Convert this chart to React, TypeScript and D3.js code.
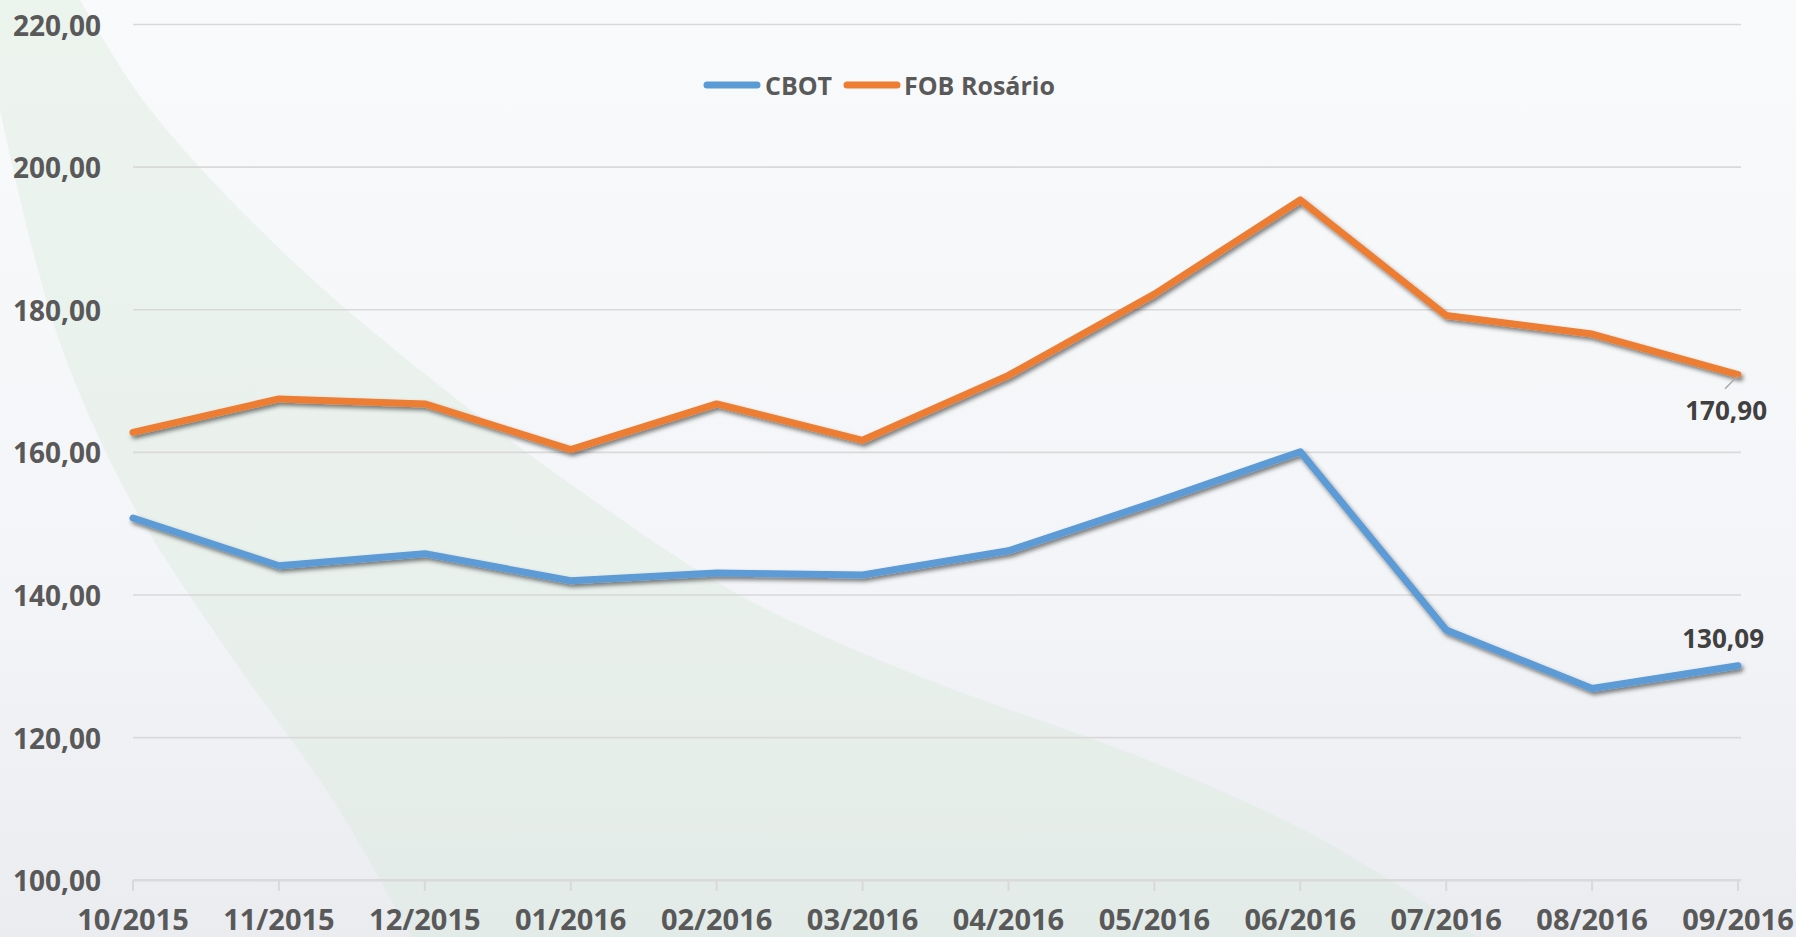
import React from "react";
import * as d3 from "d3";

const categories = ["10/2015","11/2015","12/2015","01/2016","02/2016","03/2016","04/2016","05/2016","06/2016","07/2016","08/2016","09/2016"];
const cbot = [150.8, 144.1, 145.8, 142.0, 143.1, 142.8, 146.2, 153.0, 160.1, 135.1, 126.9, 130.09];
const fob = [162.8, 167.5, 166.8, 160.4, 166.8, 161.7, 170.8, 182.2, 195.4, 179.2, 176.6, 170.90];
const yTicks = [100, 120, 140, 160, 180, 200, 220];
const seriesNames = ["CBOT", "FOB Rosário"];
const seriesColors = ["#5B9BD5", "#ED7D31"];

const W = 1796, H = 937;
const FONT = "'Open Sans', 'DejaVu Sans', sans-serif";
const fmt = (v: number) => v.toFixed(2).replace(".", ",");

// background decoration (swoosh)
const bandLeft: [number, number][] = [[0, 110], [33, 251], [67, 362], [133, 505], [230, 655], [333, 800], [412, 937]];
const bandRight: [number, number][] = [[1478, 937], [1317, 837], [1145, 759], [916, 675], [745, 598], [596, 502], [435, 382], [286, 255], [149, 108], [80, 0]];

export default function App() {
  const x = d3.scalePoint<string>().domain(categories).range([133, 1738]);
  const y = d3.scaleLinear().domain([100, 220]).range([880.3, 24.5]);
  const line = d3.line<number>().x((_, i) => x(categories[i])!).y((d) => y(d));
  const curve = d3.line().curve(d3.curveCatmullRom);
  const bandPath = curve(bandLeft)! + "L" + curve(bandRight)!.slice(1) + "L0,0Z";
  const series = [cbot, fob];
  const lastX = x(categories[categories.length - 1])!;
  const yF = y(fob[fob.length - 1]);
  const yC = y(cbot[cbot.length - 1]);

  return (
    <svg width={W} height={H} style={{ position: "absolute", left: 0, top: 0 }} fontFamily={FONT}>
      <defs>
        <linearGradient id="bg" x1="0" y1="0" x2="0" y2="1">
          <stop offset="0" stopColor="#f9fafb" />
          <stop offset="0.6" stopColor="#f4f5f8" />
          <stop offset="1" stopColor="#eaecf0" />
        </linearGradient>
        <filter id="sh" x="-5%" y="-5%" width="110%" height="120%">
          <feDropShadow dx="2" dy="3" stdDeviation="2" floodColor="#000" floodOpacity="0.5" />
        </filter>
      </defs>
      <rect x={0} y={0} width={W} height={H} fill="url(#bg)" />
      <path d={bandPath} fill="#d7e9d9" fillOpacity={0.38} />

      {yTicks.map((t) => (
        <g key={t}>
          <line x1={133} x2={1741} y1={y(t)} y2={y(t)} stroke="#d9d9d9" strokeWidth={t === 100 ? 2.5 : 1.6} />
          <text x={101} y={y(t)} textAnchor="end" dominantBaseline="central" fontSize={28} fontWeight={700} fill="#595959">{fmt(t)}</text>
        </g>
      ))}
      {categories.map((c) => (
        <g key={c}>
          <line x1={x(c)} x2={x(c)} y1={880} y2={891} stroke="#d9d9d9" strokeWidth={2} />
          <text x={x(c)} y={930} textAnchor="middle" fontSize={29} fontWeight={700} fill="#595959">{c}</text>
        </g>
      ))}

      {series.map((s, i) => (
        <path key={i} d={line(s)!} fill="none" stroke={seriesColors[i]} strokeWidth={7} strokeLinejoin="round" strokeLinecap="round" filter="url(#sh)" />
      ))}

      <line x1={lastX} y1={yF + 1} x2={lastX - 13} y2={yF + 14} stroke="#a6a6a6" strokeWidth={1.5} />
      <text x={lastX + 29} y={yF + 45} textAnchor="end" fontSize={26} fontWeight={700} fill="#404040">{fmt(fob[fob.length - 1])}</text>
      <text x={lastX + 26} y={yC - 18} textAnchor="end" fontSize={26} fontWeight={700} fill="#404040">{fmt(cbot[cbot.length - 1])}</text>

      <g>
        <line x1={707} x2={757} y1={85} y2={85} stroke={seriesColors[0]} strokeWidth={7} strokeLinecap="round" />
        <text x={765} y={85} dominantBaseline="central" fontSize={25} fontWeight={700} fill="#595959">{seriesNames[0]}</text>
        <line x1={847} x2={897} y1={85} y2={85} stroke={seriesColors[1]} strokeWidth={7} strokeLinecap="round" />
        <text x={904} y={85} dominantBaseline="central" fontSize={25} fontWeight={700} fill="#595959">{seriesNames[1]}</text>
      </g>
    </svg>
  );
}
